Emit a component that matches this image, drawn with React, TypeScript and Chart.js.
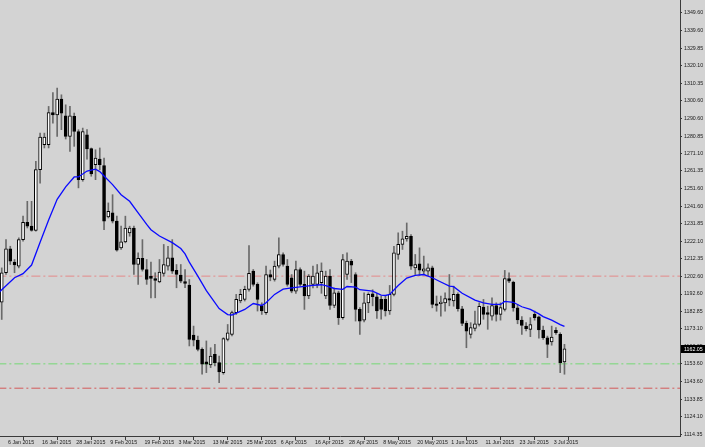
import React, { useEffect, useRef } from "react";
import { Chart, registerables } from "chart.js";

Chart.register(...registerables);

// Daily XAUUSD-like candles; index 0 = 6 Jan 2015, first visible bar is index -1
const FIRST_INDEX = -1;

const opens = [
  1188.1, 1204.5, 1217.9, 1210.4, 1208.2, 1223.0, 1232.7, 1230.5, 1228.2, 1262.1,
  1276.0, 1276.0, 1294.0, 1292.7, 1301.5, 1292.2, 1280.7, 1291.8, 1283.4, 1256.5,
  1281.6, 1273.8, 1264.9, 1268.0, 1264.3, 1235.7, 1237.9, 1233.3, 1218.4, 1221.7,
  1226.8, 1229.5, 1209.1, 1212.5, 1206.3, 1202.6, 1201.3, 1199.3, 1204.1, 1208.2,
  1212.8, 1205.8, 1203.2, 1199.5, 1197.6, 1169.7, 1166.9, 1161.7, 1154.7, 1153.0,
  1158.9, 1154.3, 1148.7, 1167.3, 1170.1, 1182.2, 1188.7, 1189.6, 1195.2, 1205.4,
  1198.0, 1186.2, 1182.2, 1203.5, 1200.8, 1208.2, 1214.7, 1208.2, 1201.7, 1194.2,
  1206.3, 1198.0, 1191.5, 1198.0, 1198.0, 1198.9, 1191.5, 1202.6, 1186.2, 1193.3,
  1179.4, 1203.5, 1211.0, 1203.5, 1184.0, 1178.0, 1187.7, 1192.7, 1191.1, 1189.6,
  1189.6, 1183.1, 1192.4, 1214.7, 1220.3, 1223.4, 1224.9, 1207.2, 1209.5, 1205.4,
  1205.4, 1207.2, 1187.2, 1187.2, 1187.7, 1190.0, 1188.7, 1192.4, 1184.4, 1176.2,
  1170.1, 1173.4, 1175.6, 1185.3, 1182.2, 1180.3, 1186.2, 1181.2, 1184.0, 1201.3,
  1199.3, 1184.9, 1178.1, 1174.7, 1172.9, 1181.2, 1179.9, 1172.5, 1168.2, 1165.8,
  1172.3, 1170.1, 1154.7,
];
const highs = [
  1207.2, 1223.0, 1219.3, 1211.9, 1224.0, 1236.1, 1244.4, 1244.4, 1266.7, 1282.5,
  1282.5, 1297.4, 1305.2, 1307.6, 1303.9, 1298.3, 1297.4, 1293.7, 1284.4, 1285.3,
  1284.4, 1274.2, 1273.2, 1274.2, 1268.6, 1243.5, 1248.1, 1236.1, 1230.5, 1236.1,
  1230.5, 1230.5, 1215.6, 1223.0, 1211.9, 1210.4, 1204.5, 1211.9, 1220.3, 1219.3,
  1223.0, 1209.1, 1209.1, 1206.3, 1200.7, 1174.7, 1169.1, 1162.6, 1166.4, 1162.6,
  1164.5, 1158.0, 1168.2, 1175.6, 1183.1, 1192.4, 1195.2, 1197.0, 1219.7, 1206.3,
  1198.9, 1187.7, 1208.2, 1206.0, 1211.0, 1224.0, 1215.6, 1211.9, 1203.5, 1211.0,
  1207.2, 1205.4, 1203.5, 1208.2, 1209.1, 1210.0, 1205.4, 1206.3, 1196.0, 1194.2,
  1214.7, 1215.6, 1212.0, 1204.5, 1185.0, 1193.3, 1193.3, 1195.0, 1193.0, 1191.5,
  1191.5, 1197.4, 1219.3, 1226.8, 1227.7, 1232.3, 1225.8, 1214.7, 1218.4, 1213.8,
  1209.5, 1208.2, 1191.5, 1191.5, 1193.3, 1203.5, 1197.0, 1193.3, 1185.8, 1177.5,
  1176.6, 1183.1, 1187.7, 1189.6, 1185.8, 1190.5, 1187.7, 1187.7, 1205.8, 1204.5,
  1199.8, 1186.8, 1180.0, 1176.6, 1179.4, 1183.1, 1180.3, 1174.7, 1169.1, 1174.7,
  1173.8, 1171.0, 1164.5,
];
const lows = [
  1178.4, 1203.5, 1209.1, 1204.5, 1207.2, 1222.1, 1229.5, 1227.7, 1227.7, 1254.6,
  1274.2, 1274.2, 1288.1, 1280.7, 1284.4, 1279.2, 1272.3, 1275.1, 1251.9, 1255.6,
  1268.0, 1258.4, 1256.5, 1262.0, 1228.6, 1235.1, 1232.3, 1216.5, 1217.5, 1221.2,
  1224.9, 1203.5, 1198.0, 1205.4, 1198.0, 1190.5, 1190.5, 1198.9, 1202.6, 1206.0,
  1204.1, 1196.1, 1198.9, 1196.1, 1163.6, 1163.6, 1160.8, 1147.8, 1148.7, 1151.5,
  1152.4, 1143.1, 1147.8, 1166.4, 1169.2, 1181.2, 1187.7, 1188.7, 1194.2, 1197.0,
  1183.1, 1181.2, 1181.2, 1200.0, 1199.8, 1207.2, 1208.2, 1197.0, 1193.3, 1193.0,
  1197.0, 1184.0, 1190.0, 1196.0, 1196.1, 1193.0, 1190.0, 1184.0, 1185.0, 1175.6,
  1178.5, 1200.8, 1199.0, 1177.5, 1170.1, 1177.0, 1182.2, 1186.0, 1179.0, 1178.5,
  1180.3, 1181.2, 1191.5, 1212.0, 1217.5, 1222.1, 1206.3, 1203.5, 1203.0, 1203.5,
  1203.0, 1184.9, 1183.0, 1180.3, 1183.0, 1186.0, 1185.8, 1183.0, 1175.0, 1162.6,
  1168.0, 1172.0, 1174.7, 1178.5, 1172.9, 1178.0, 1177.5, 1178.0, 1183.1, 1198.9,
  1183.0, 1176.0, 1170.1, 1172.0, 1168.8, 1178.0, 1168.0, 1167.3, 1157.1, 1164.0,
  1170.0, 1148.7, 1147.8,
];
const closes = [
  1204.5, 1217.9, 1211.0, 1208.9, 1223.0, 1232.7, 1230.5, 1228.2, 1262.1, 1280.3,
  1280.3, 1294.0, 1292.7, 1301.5, 1293.7, 1280.7, 1292.2, 1283.4, 1256.5, 1283.4,
  1273.6, 1259.7, 1268.6, 1264.9, 1233.3, 1238.8, 1233.3, 1217.1, 1221.7, 1229.5,
  1229.5, 1209.1, 1212.5, 1206.3, 1200.7, 1201.3, 1200.2, 1204.8, 1209.1, 1212.8,
  1205.4, 1203.5, 1199.8, 1198.5, 1167.3, 1166.9, 1161.7, 1153.4, 1153.4, 1158.0,
  1154.3, 1149.1, 1167.7, 1171.0, 1182.2, 1189.6, 1192.4, 1195.2, 1204.1, 1198.0,
  1189.6, 1183.1, 1203.5, 1202.0, 1208.2, 1214.7, 1209.1, 1198.0, 1194.2, 1206.3,
  1198.0, 1191.5, 1202.6, 1202.6, 1204.5, 1205.4, 1202.6, 1186.2, 1193.3, 1179.4,
  1211.9, 1211.0, 1208.7, 1184.0, 1177.5, 1187.7, 1192.4, 1191.1, 1183.1, 1184.0,
  1183.1, 1192.4, 1215.6, 1220.3, 1223.4, 1224.9, 1208.2, 1209.1, 1206.0, 1206.7,
  1207.2, 1186.8, 1186.2, 1188.1, 1190.0, 1189.2, 1192.4, 1184.4, 1176.2, 1171.9,
  1173.8, 1176.0, 1185.8, 1181.2, 1181.2, 1186.2, 1181.2, 1185.0, 1201.3, 1199.8,
  1184.9, 1178.1, 1175.1, 1173.2, 1175.6, 1179.4, 1172.5, 1168.2, 1164.5, 1168.6,
  1171.0, 1154.3, 1162.05,
];

// Moving average (blue line), read at selected bars
const maIndex = [
  -2, -1, 0, 2, 4, 6, 8, 10, 12, 14, 16, 17, 19, 21, 22, 23, 25, 27, 29, 31, 33, 34, 36, 39,
  41, 42, 43, 45, 47, 50, 52, 53, 56, 58, 60, 61, 63, 65, 67, 69, 72, 74, 75, 77, 79, 80,
  82, 83, 86, 88, 89, 90, 92, 94, 96, 98, 100, 102, 104, 105, 107, 110, 112, 114, 116,
  117, 119, 121, 123, 125, 126, 128, 130, 131,
];
const maValues = [
  1192.5, 1195.0, 1197.2, 1201.7, 1204.0, 1208.8, 1221.5, 1234.0, 1245.5, 1252.5, 1258.0,
  1258.0, 1261.3, 1262.4, 1261.0, 1258.5, 1253.7, 1248.1, 1244.4, 1238.0, 1231.5, 1228.5,
  1225.0, 1221.3, 1218.0, 1215.0, 1210.4, 1202.6, 1194.5, 1184.5, 1181.1, 1180.9, 1184.0,
  1187.3, 1186.2, 1187.7, 1192.4, 1195.3, 1196.1, 1196.6, 1197.4, 1197.8, 1197.3, 1195.7,
  1195.2, 1196.8, 1196.5, 1195.0, 1194.2, 1192.0, 1191.8, 1192.4, 1197.4, 1201.5, 1203.0,
  1203.5, 1201.7, 1199.3, 1197.0, 1196.7, 1193.0, 1189.2, 1187.7, 1186.8, 1186.8, 1188.5,
  1188.0, 1185.5, 1184.0, 1181.5, 1180.0, 1178.0, 1175.5, 1174.5,
];

const dateTickIndex = [0, 8, 16, 24, 32, 40, 48, 56, 64, 72, 80, 88, 96, 104, 112, 120, 128];
const dateLabels = [
  "6 Jan 2015", "16 Jan 2015", "28 Jan 2015", "9 Feb 2015", "19 Feb 2015", "3 Mar 2015",
  "13 Mar 2015", "25 Mar 2015", "6 Apr 2015", "16 Apr 2015", "28 Apr 2015", "8 May 2015",
  "20 May 2015", "1 Jun 2015", "11 Jun 2015", "23 Jun 2015", "3 Jul 2015",
];

const priceTicks = [
  1114.35, 1124.1, 1133.85, 1143.6, 1153.6, 1163.35, 1173.1, 1182.85, 1192.6, 1202.6,
  1212.35, 1222.1, 1231.85, 1241.6, 1251.6, 1261.35, 1271.1, 1280.85, 1290.6, 1300.6,
  1310.35, 1320.1, 1329.85, 1339.6, 1349.6,
];

const upperLevel = 1202.6;
const greenLevel = 1153.6;
const lowerLevel = 1140.0;
const currentPrice = 1162.05;

const FONT = "'Liberation Sans', Arial, sans-serif";
const FONT_SIZE = 5.3;

export default function App() {
  const ref = useRef<HTMLCanvasElement | null>(null);

  useEffect(() => {
    const canvas = ref.current;
    if (!canvas) return;
    const idx = opens.map((_, k) => k + FIRST_INDEX);
    const bull = opens.map((o, k) => closes[k] >= o);
    const wickData = idx.map((x, k) => ({ x, y: [lows[k], highs[k]] }));
    const bodyData = idx.map((x, k) => ({ x, y: [opens[k], closes[k]] }));
    const maData = maIndex.map((x, k) => ({ x, y: maValues[k] }));
    const levelLine = (v: number) => [
      { x: -10, y: v },
      { x: 170, y: v },
    ];

    const pricePlugin = {
      id: "currentPrice",
      afterDraw(chart: any) {
        const { ctx, scales } = chart;
        const y = Math.round(scales.y.getPixelForValue(currentPrice));
        ctx.save();
        ctx.fillStyle = "#000";
        ctx.fillRect(chart.chartArea.right + 1, y - 4, 24, 8);
        ctx.fillStyle = "#fff";
        ctx.font = `${FONT_SIZE}px ${FONT}`;
        ctx.textBaseline = "middle";
        ctx.textAlign = "left";
        ctx.fillText(currentPrice.toFixed(2), chart.chartArea.right + 4, y + 0.5);
        ctx.restore();
      },
    };

    const chart = new Chart(canvas, {
      type: "bar",
      data: {
        datasets: [
          {
            type: "line",
            data: maData as any,
            borderColor: "#0a0aff",
            borderWidth: 1.3,
            pointRadius: 0,
            tension: 0,
            order: 0,
          } as any,
          {
            type: "bar",
            data: bodyData as any,
            backgroundColor: bull.map((b) => (b ? "#ffffff" : "#000000")),
            borderColor: "#000000",
            borderWidth: 1,
            borderSkipped: false,
            barThickness: 3,
            grouped: false,
            order: 1,
          } as any,
          {
            type: "bar",
            data: wickData as any,
            backgroundColor: "#6a6a6a",
            borderWidth: 0,
            barThickness: 1,
            grouped: false,
            order: 2,
          } as any,
          {
            type: "line",
            data: levelLine(upperLevel) as any,
            borderColor: "#e48a8a",
            borderWidth: 1,
            borderDash: [9, 3, 2, 3],
            pointRadius: 0,
            order: 3,
          } as any,
          {
            type: "line",
            data: levelLine(greenLevel) as any,
            borderColor: "#74d874",
            borderWidth: 1,
            borderDash: [9, 3, 2, 3],
            pointRadius: 0,
            order: 3,
          } as any,
          {
            type: "line",
            data: levelLine(lowerLevel) as any,
            borderColor: "#d45a5a",
            borderWidth: 1,
            borderDash: [9, 3, 2, 3],
            pointRadius: 0,
            order: 3,
          } as any,
        ],
      },
      options: {
        responsive: false,
        maintainAspectRatio: false,
        animation: false,
        devicePixelRatio: 1,
        layout: { padding: 0 },
        plugins: { legend: { display: false }, tooltip: { enabled: false } },
        scales: {
          x: {
            type: "linear",
            min: -1.407,
            max: 158.1,
            offset: false,
            afterFit: (s: any) => {
              s.height = 11;
              s.paddingLeft = 0;
              s.paddingRight = 0;
            },
            afterBuildTicks: (s: any) => {
              s.ticks = dateTickIndex.map((v) => ({ value: v }));
            },
            grid: {
              drawOnChartArea: false,
              drawTicks: true,
              tickLength: 4,
              color: "#3a3a3a",
            },
            border: { display: true, color: "#3a3a3a", width: 1 },
            ticks: {
              autoSkip: false,
              maxRotation: 0,
              minRotation: 0,
              align: "start",
              labelOffset: 2,
              padding: -1,
              color: "#1a1a1a",
              font: { family: FONT, size: FONT_SIZE },
              callback: (v: any) => {
                const k = dateTickIndex.indexOf(Number(v));
                return k >= 0 ? dateLabels[k] : "";
              },
            },
          },
          y: {
            type: "linear",
            position: "right",
            min: 1113.3,
            max: 1356.85,
            afterFit: (s: any) => {
              s.width = 25;
              s.paddingTop = 0;
              s.paddingBottom = 0;
            },
            afterBuildTicks: (s: any) => {
              s.ticks = priceTicks.map((v) => ({ value: v }));
            },
            grid: {
              drawOnChartArea: false,
              drawTicks: true,
              tickLength: 2,
              color: "#3a3a3a",
            },
            border: { display: true, color: "#3a3a3a", width: 1 },
            ticks: {
              autoSkip: false,
              padding: 2,
              color: "#1a1a1a",
              font: { family: FONT, size: FONT_SIZE },
              callback: (v: any) => Number(v).toFixed(2),
            },
          },
        },
      },
      plugins: [pricePlugin],
    } as any);

    return () => chart.destroy();
  }, []);

  return (
    <div
      style={{
        position: "absolute",
        left: 0,
        top: 0,
        width: 705,
        height: 447,
        background: "#d3d3d3",
      }}
    >
      <canvas ref={ref} width={705} height={447} style={{ display: "block", width: 705, height: 447 }} />
    </div>
  );
}
